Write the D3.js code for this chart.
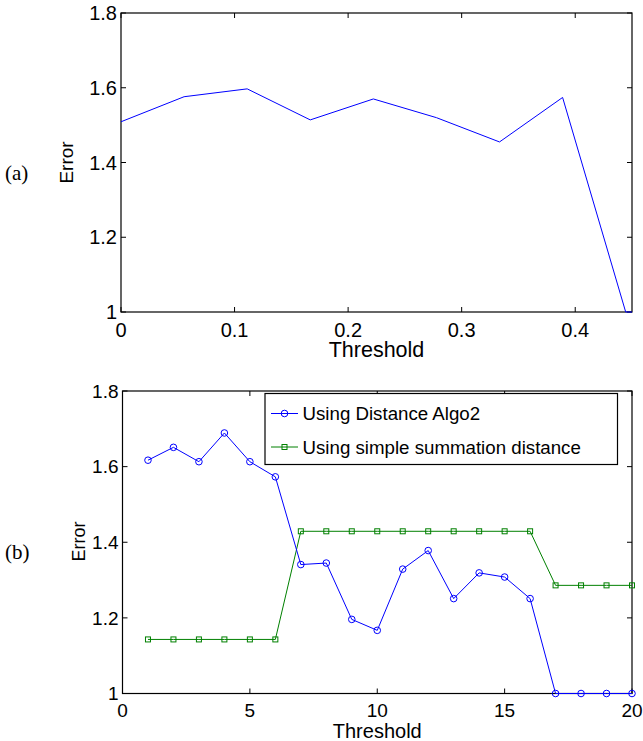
<!DOCTYPE html>
<html>
<head>
<meta charset="utf-8">
<script src="https://cdn.jsdelivr.net/npm/d3@7"></script>
<style>
  body { margin: 0; background: #fff; }
  svg { display: block; font-family: Arial, "Liberation Sans", sans-serif; }
</style>
</head>
<body>
<div id="chart"></div>
<script>
// Panel (a): error vs threshold
const thresholdA = [0, 1/18, 2/18, 3/18, 4/18, 5/18, 6/18, 7/18, 8/18, 0.45];
const errorA = [1.509, 1.576, 1.597, 1.514, 1.570, 1.520, 1.455, 1.574, 1.0, 1.0];
const ticksAx = [0, 0.1, 0.2, 0.3, 0.4];
const ticksAy = [1, 1.2, 1.4, 1.6, 1.8];

// Panel (b): two distance measures
const thresholdB = d3.range(1, 21);
const errorAlgo2 = [1.617, 1.651, 1.613, 1.689, 1.613, 1.573, 1.341, 1.345, 1.196, 1.167,
                    1.329, 1.378, 1.251, 1.319, 1.308, 1.251, 1.0, 1.0, 1.0, 1.0];
const errorSimple = [1.143, 1.143, 1.143, 1.143, 1.143, 1.143, 1.429, 1.429, 1.429, 1.429,
                     1.429, 1.429, 1.429, 1.429, 1.429, 1.429, 1.286, 1.286, 1.286, 1.286];
const ticksBx = [0, 5, 10, 15, 20];
const ticksBy = [1, 1.2, 1.4, 1.6, 1.8];
const legendLabels = ["Using Distance Algo2", "Using simple summation distance"];

const svg = d3.select("#chart").append("svg")
  .attr("width", 643)
  .attr("height", 741);

// draws a matlab-style boxed axis, returns scales
function drawFrame(opt) {
  const x = d3.scaleLinear().domain(opt.xDomain).range([opt.left, opt.right]);
  const y = d3.scaleLinear().domain([1, 1.8]).range([opt.bottom, opt.top]);
  const g = svg.append("g");
  const tk = 5;

  // ticks inside, on all four sides
  opt.xTicks.forEach(t => {
    g.append("line").attr("x1", x(t)).attr("x2", x(t))
      .attr("y1", opt.bottom).attr("y2", opt.bottom - tk).attr("stroke", "#000");
    g.append("line").attr("x1", x(t)).attr("x2", x(t))
      .attr("y1", opt.top).attr("y2", opt.top + tk).attr("stroke", "#000");
    g.append("text").attr("x", x(t)).attr("y", opt.bottom + opt.xLabelDy)
      .attr("text-anchor", "middle").attr("font-size", opt.tickSize)
      .text(t);
  });
  opt.yTicks.forEach(t => {
    g.append("line").attr("x1", opt.left).attr("x2", opt.left + tk)
      .attr("y1", y(t)).attr("y2", y(t)).attr("stroke", "#000");
    g.append("line").attr("x1", opt.right).attr("x2", opt.right - tk)
      .attr("y1", y(t)).attr("y2", y(t)).attr("stroke", "#000");
    g.append("text").attr("x", opt.left - 4).attr("y", y(t))
      .attr("dy", "0.36em")
      .attr("text-anchor", "end").attr("font-size", opt.tickSize)
      .text(t === 1 ? "1" : t.toFixed(1));
  });

  g.append("rect")
    .attr("x", opt.left).attr("y", opt.top)
    .attr("width", opt.right - opt.left).attr("height", opt.bottom - opt.top)
    .attr("fill", "none").attr("stroke", "#000").attr("stroke-width", 1.2);

  // axis titles
  g.append("text")
    .attr("x", (opt.left + opt.right) / 2).attr("y", opt.xTitleY)
    .attr("text-anchor", "middle").attr("font-size", opt.xTitleSize)
    .text("Threshold");
  g.append("text")
    .attr("transform", `translate(${opt.yTitleX},${opt.yTitleY}) rotate(-90)`)
    .attr("text-anchor", "middle").attr("font-size", opt.yTitleSize)
    .text("Error");

  // panel letter
  g.append("text")
    .attr("x", 5).attr("y", opt.letterY)
    .attr("font-family", "'Liberation Serif', 'Times New Roman', serif")
    .attr("font-size", 21)
    .text(opt.letter);

  return { x, y };
}

// ---- (a)
const a = drawFrame({
  left: 121, right: 632, top: 13, bottom: 312,
  xDomain: [0, 0.45], xTicks: ticksAx, yTicks: ticksAy,
  tickSize: 20, xLabelDy: 24.5, xTitleY: 357, xTitleSize: 21.5,
  yTitleX: 73, yTitleY: 162.5, yTitleSize: 19,
  letter: "(a)", letterY: 180
});

svg.append("path")
  .datum(thresholdA.map((t, i) => [t, errorA[i]]))
  .attr("fill", "none")
  .attr("stroke", "#0000ff")
  .attr("stroke-width", 1)
  .attr("d", d3.line().x(d => a.x(d[0])).y(d => a.y(d[1])));

// ---- (b)
const b = drawFrame({
  left: 122.5, right: 632, top: 391, bottom: 693.5,
  xDomain: [0, 20], xTicks: ticksBx, yTicks: ticksBy,
  tickSize: 19, xLabelDy: 23.5, xTitleY: 738, xTitleSize: 20,
  yTitleX: 85, yTitleY: 541.5, yTitleSize: 18,
  letter: "(b)", letterY: 559
});

const lineB = d3.line().x(d => b.x(d[0])).y(d => b.y(d[1]));
const algoPts = thresholdB.map((t, i) => [t, errorAlgo2[i]]);
const simplePts = thresholdB.map((t, i) => [t, errorSimple[i]]);

svg.append("path").datum(simplePts)
  .attr("fill", "none").attr("stroke", "#008000").attr("stroke-width", 1)
  .attr("d", lineB);
svg.selectAll(".sq").data(simplePts).enter().append("rect")
  .attr("x", d => b.x(d[0]) - 2.5).attr("y", d => b.y(d[1]) - 2.5)
  .attr("width", 5).attr("height", 5)
  .attr("fill", "none").attr("stroke", "#008000").attr("stroke-width", 1);

svg.append("path").datum(algoPts)
  .attr("fill", "none").attr("stroke", "#0000ff").attr("stroke-width", 1)
  .attr("d", lineB);
svg.selectAll(".circ").data(algoPts).enter().append("circle")
  .attr("cx", d => b.x(d[0])).attr("cy", d => b.y(d[1])).attr("r", 3.3)
  .attr("fill", "none").attr("stroke", "#0000ff").attr("stroke-width", 1);

// Legend
const leg = svg.append("g");
leg.append("rect")
  .attr("x", 265).attr("y", 393.5).attr("width", 352.5).attr("height", 71)
  .attr("fill", "#fff").attr("stroke", "#000").attr("stroke-width", 1.2);
const legColors = ["#0000ff", "#008000"];
legendLabels.forEach((lab, i) => {
  const cy = 413.5 + i * 33.5;
  leg.append("line").attr("x1", 271).attr("x2", 298)
    .attr("y1", cy).attr("y2", cy).attr("stroke", legColors[i]);
  if (i === 0) {
    leg.append("circle").attr("cx", 284.5).attr("cy", cy).attr("r", 3.3)
      .attr("fill", "none").attr("stroke", legColors[i]);
  } else {
    leg.append("rect").attr("x", 282).attr("y", cy - 2.5).attr("width", 5).attr("height", 5)
      .attr("fill", "none").attr("stroke", legColors[i]);
  }
  leg.append("text").attr("x", 302.5).attr("y", cy).attr("dy", "0.36em")
    .attr("font-size", 18.7).text(lab);
});
</script>
</body>
</html>
